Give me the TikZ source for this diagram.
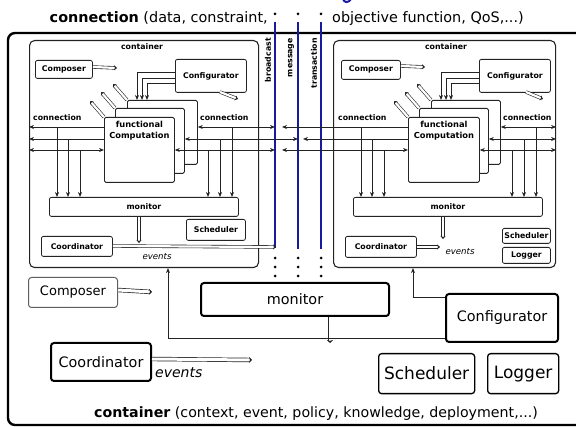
\documentclass[tikz,border=0pt]{standalone}
\usepackage{fontspec}
\setmainfont{DejaVu Sans}
\usetikzlibrary{arrows.meta}
\definecolor{ink}{RGB}{35,35,35}
\definecolor{busblue}{RGB}{24,24,160}
\definecolor{softgray}{RGB}{95,95,95}
\tikzset{
  fsz/.style={font=\fontsize{#1pt}{#1pt}\selectfont},
  bfsz/.style={font=\fontsize{#1pt}{#1pt}\selectfont\bfseries},
  itsz/.style={font=\fontsize{#1pt}{#1pt}\selectfont\itshape},
  tipa/.tip={Stealth[length=5pt,width=4pt]},
  cont/.style={draw=ink, line width=1.1pt, rounded corners=5pt, anchor=north west, inner sep=0pt},
  ibox/.style={draw=ink, line width=0.8pt, rounded corners=2pt, fill=white, anchor=north west, inner sep=0pt, bfsz=7.8},
  fbox/.style={draw=ink, line width=0.8pt, rounded corners=1.5pt, fill=white, anchor=north west, inner sep=0pt},
  obox/.style={draw=black, line width=2pt, rounded corners=3pt, fill=white, anchor=north west, inner sep=0pt, fsz=14.4},
  wh/.style 2 args={minimum width=#1pt, minimum height=#2pt},
  lab/.style={bfsz=7.8, inner sep=0pt},
  conn/.style={draw=ink, line width=0.7pt},
  arr/.style={conn, -tipa},
  darr/.style={conn, tipa-tipa},
  hol/.style={draw=ink, line width=0.6pt, double=white, double distance=2.2pt, -{Stealth[length=3pt,width=5pt]}},
  holB/.style={draw=ink, line width=0.7pt, double=white, double distance=3pt, -{Stealth[length=3pt,width=6pt]}},
  bus/.style={draw=busblue, line width=2.2pt},
}
\begin{document}
\begin{tikzpicture}[x=1pt,y=-1pt]
\useasboundingbox (0,0) rectangle (576,427);
\clip (0,0) rectangle (576,427);

% outer container frame
\draw[black, line width=2.4pt, rounded corners=7pt] (8,33) rectangle (640,425);

% heading (its upper line is cut off by the page edge)
\draw[busblue, line width=2pt, line cap=round] (343,-1) .. controls (344,3) and (349,3) .. (351,-1);
\node[fsz=14.4, anchor=base east, inner sep=0pt] (topL) at (268,23) {\textbf{connection} (data, constraint,};
\node[fsz=14.4, anchor=base west, inner sep=0pt] (topR) at (332,23) {objective function, QoS,...)};

% communication buses
\coordinate (bA) at (275,22);
\coordinate (bB) at (298,22);
\coordinate (bC) at (321,22);
\coordinate (bAr) at (282,0);
\coordinate (bBr) at (303,0);
\coordinate (bAend) at (276,247);
\draw[bus] (bA) -- (275,248);
\draw[bus] (bB) -- (298,249);
\draw[bus] (bC) -- (321,249);
\foreach \x in {275,298,321}{
  \fill (\x,14) circle (1.5pt);
  \foreach \y in {258,267,276} \fill (\x,\y) circle (1.5pt);
}
\node[lab, rotate=90, anchor=east] (lbA) at (268,38) {broadcast};
\node[lab, rotate=90, anchor=east] (lbB) at (291,38) {message};
\node[lab, rotate=90, anchor=east] (lbC) at (314,38) {transaction};

% ---------- left container ----------
\node[cont, wh={229}{227}] (Lc) at (29,40) {};
\node[lab] (Lct) at (142,47) {container};
\node[ibox, wh={57}{18}] (LComp) at (35,60) {Composer};
\node[ibox, wh={71}{33}] (LConf) at (175,59) {Configurator};
\node[fbox, wh={70}{64}] (Lback) at (127,100) {};
\node[fbox, wh={69}{65}] (Lmid) at (115,108) {};
\node[fbox, wh={70}{65}] (Lfront) at (104,117) {};
\node[font=\fontsize{8.3pt}{10.5pt}\selectfont\bfseries, align=center, inner sep=0pt, anchor=north] (Lfun) at (Lfront.north) [yshift=-4pt] {functional\\Computation};
\node[ibox, wh={189}{19}] (Lmon) at (49,197) {monitor};
\node[ibox, wh={59}{21}] (LSch) at (186,219) {Scheduler};
\node[ibox, wh={71}{20}] (LCoord) at (41,236) {Coordinator};
\node[itsz=8.6, inner sep=0pt] (Lev) at (157,257) {events};

\draw[hol] (LComp.east |- 0,67) -- (117,68) coordinate (LCompOut);
\draw[hol] (220,92) -- (238,99) coordinate (LConfOut);
\draw[hol] (Lback.north west) -- ++(-14,-16) coordinate (LdA);
\draw[hol] (Lmid.north west) -- ++(-14,-16) coordinate (LdB);
\draw[hol] (Lfront.north west) -- ++(-14,-16) coordinate (LdC);
\draw[arr] (LConf.west |- 0,72) -| (Lback.north -| 137,0);
\draw[arr] (LConf.west |- 0,78) -| (Lback.north -| 142,0);
\draw[arr] (LConf.west |- 0,83) -| (Lback.north -| 147,0);

\node[lab, anchor=base west] (LclA) at (33,121) {connection};
\draw[arr] (Lfront.west |- 0,127) -- (Lc.west |- 0,127);
\draw[arr] (Lfront.west |- 0,139) -- (Lc.west |- 0,139);
\draw[darr] (Lc.west |- 0,150) -- (Lfront.west |- 0,150);
\draw[arr] (57,127) -- (Lmon.north -| 57,0);
\draw[arr] (68,139) -- (Lmon.north -| 68,0);
\draw[arr] (80,150) -- (Lmon.north -| 80,0);

\node[lab, anchor=base west] (LclB) at (200,121) {connection};
\draw[darr] (Lback.east |- 0,127) -- (bA |- 0,127);
\draw[darr] (Lmid.east |- 0,139) -- (bB |- 0,139);
\draw[darr] (Lfront.east |- 0,150) -- (bA |- 0,150);
\draw[arr] (232,127) -- (Lmon.north -| 232,0);
\draw[arr] (220,139) -- (Lmon.north -| 220,0);
\draw[arr] (208,150) -- (Lmon.north -| 208,0);

\draw[hol] (Lmon.south -| 139,0) -- (139,243);
\draw[hol] (LCoord.east |- 0,246) -- (bAend);

% ---------- right container ----------
\node[cont, wh={222}{227}] (Rc) at (333,40) {};
\node[lab] (Rct) at (446,47) {container};
\node[ibox, wh={59}{19}] (RComp) at (341,60) {Composer};
\node[ibox, wh={71}{33}] (RConf) at (479,59) {Configurator};
\node[fbox, wh={69}{64}] (Rback) at (431,100) {};
\node[fbox, wh={69}{65}] (Rmid) at (419,108) {};
\node[fbox, wh={71}{65}] (Rfront) at (408,117) {};
\node[font=\fontsize{8.3pt}{10.5pt}\selectfont\bfseries, align=center, inner sep=0pt, anchor=north] (Rfun) at (Rfront.north) [yshift=-4pt] {functional\\Computation};
\node[ibox, wh={189}{19}] (Rmon) at (353,197) {monitor};
\node[ibox, wh={48}{15}] (RSch) at (502,228) {Scheduler};
\node[ibox, wh={48}{16}] (RLog) at (502,247) {Logger};
\node[ibox, wh={71}{21}] (RCoord) at (345,236) {Coordinator};
\node[itsz=8.6, inner sep=0pt] (Rev) at (460,252) {events};

\draw[hol] (RComp.east |- 0,66) -- (425,67) coordinate (RCompOut);
\draw[hol] (526,92) -- (543,99) coordinate (RConfOut);
\draw[hol] (Rback.north west) -- ++(-14,-16) coordinate (RdA);
\draw[hol] (Rmid.north west) -- ++(-14,-16) coordinate (RdB);
\draw[hol] (Rfront.north west) -- ++(-14,-16) coordinate (RdC);
\draw[arr] (RConf.west |- 0,72) -| (Rback.north -| 441,0);
\draw[arr] (RConf.west |- 0,78) -| (Rback.north -| 446,0);
\draw[arr] (RConf.west |- 0,83) -| (Rback.north -| 451,0);

\node[lab, anchor=base west] (RclA) at (338,121) {connection};
\draw[arr] (Rfront.west |- 0,127) -- (bAr |- 0,127);
\draw[arr] (Rfront.west |- 0,139) -- (bBr |- 0,139);
\draw[darr] (bAr |- 0,150) -- (Rfront.west |- 0,150);
\draw[arr] (361,127) -- (Rmon.north -| 361,0);
\draw[arr] (372,139) -- (Rmon.north -| 372,0);
\draw[arr] (384,150) -- (Rmon.north -| 384,0);

\node[lab, anchor=base west] (RclB) at (503,121) {connection};
\draw[darr] (Rback.east |- 0,127) -- (Rc.east |- 0,127);
\draw[darr] (Rmid.east |- 0,139) -- (Rc.east |- 0,139);
\draw[darr] (Rfront.east |- 0,150) -- (Rc.east |- 0,150);
\draw[arr] (536,127) -- (Rmon.north -| 536,0);
\draw[arr] (524,139) -- (Rmon.north -| 524,0);
\draw[arr] (512,150) -- (Rmon.north -| 512,0);

\draw[hol] (Rmon.south -| 443,0) -- (443,239);
\draw[hol] (RCoord.east |- 0,247) -- (440,247);

% ---------- outer level ----------
\node[obox, draw=softgray, line width=1pt, wh={89}{30}, fsz=13] (OComp) at (28,277) {Composer};
\node[obox, wh={188}{33}] (OMon) at (200,282) {monitor};
\node[obox, wh={112}{48}] (OConf) at (445,293) {Configurator};
\node[obox, wh={100}{38}] (OCoord) at (50,342) {Coordinator};
\node[obox, line width=1.3pt, wh={96}{40}, fsz=17] (OSch) at (378,353) {Scheduler};
\node[obox, line width=1.3pt, wh={71}{40}, fsz=17] (OLog) at (487,353) {Logger};
\node[itsz=14, anchor=base west, inner sep=0pt] (Oev) at (155,378) {events};

\draw[holB] (OComp.east |- 0,290) -- (152,292) coordinate (OCompOut);
\draw[holB] (OMon.south -| 330,0) -- (330,343) coordinate (OMonOut);
\draw[holB] (OCoord.east |- 0,359) -- (252,360) coordinate (OCoordOut);
\draw[arr] (OConf.west |- 0,338) -| (Lc.south -| 168,0);
\draw[arr] (OConf.west |- 0,297) -| (Rc.south -| 413,0);

\node[fsz=14.2, anchor=base, inner sep=0pt] (bottomtxt) at (316,418) {\textbf{container} (context, event, policy, knowledge, deployment,...)};
\end{tikzpicture}
\end{document}
